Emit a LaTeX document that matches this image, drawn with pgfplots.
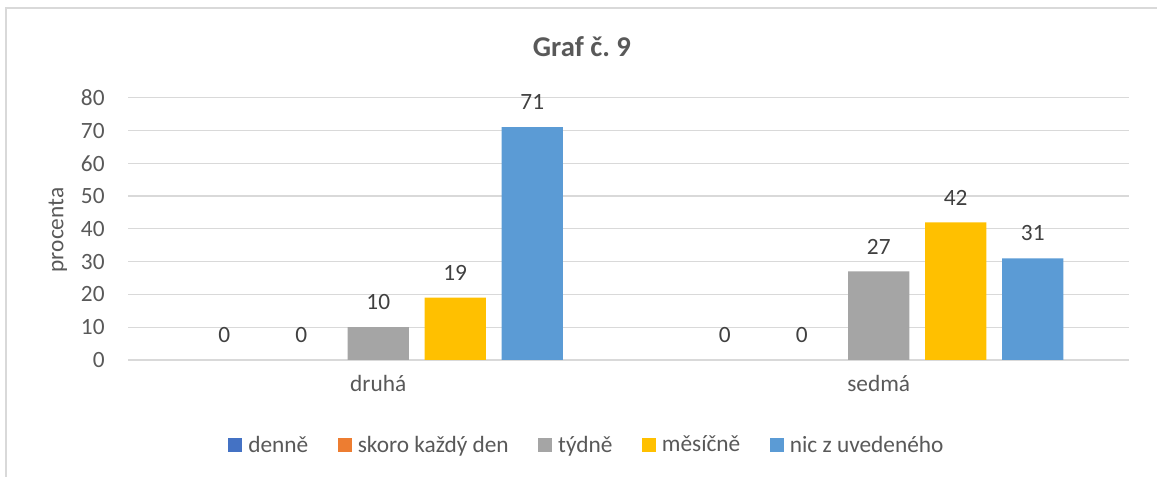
\documentclass[border=0pt]{standalone}
\usepackage{fontspec}
\setmainfont{Carlito}
\usepackage{pgfplots}
\pgfplotsset{compat=1.18}
\definecolor{cDen}{HTML}{4472C4}
\definecolor{cSko}{HTML}{ED7D31}
\definecolor{cTyd}{HTML}{A5A5A5}
\definecolor{cMes}{HTML}{FFC000}
\definecolor{cNic}{HTML}{5B9BD5}
\definecolor{cTxt}{HTML}{595959}
\definecolor{cLab}{HTML}{404040}
\definecolor{cGrid}{HTML}{D9D9D9}
\frenchspacing
\begin{document}
\begin{tikzpicture}[x=0.75pt,y=0.75pt]
\path[use as bounding box] (0,0) rectangle (1157,477);
\draw[cGrid, line width=1.5pt] (6,0) -- (6,469) -- (1157,469);
\node[font=\fontsize{21.5}{25}\selectfont\bfseries, text=cTxt] at (582,430) {Graf č. 9};
\node[font=\fontsize{17.5}{21}\selectfont, text=cTxt, rotate=90] at (58,247) {procenta};
\begin{axis}[
  at={(96pt,87.75pt)}, anchor=south west,
  scale only axis, width=750.75pt, height=196.7pt,
  xmin=-0.5, xmax=1.5, ymin=0, ymax=80,
  ytick={0,10,...,80},
  xtick={0,1}, xticklabels={druhá,sedmá},
  axis line style={draw=none},
  major tick length=0pt,
  ymajorgrids, grid style={cGrid, line width=0.9pt},
  tick label style={font=\fontsize{17.5}{21}\selectfont, text=cTxt},
  /pgf/number format/assume math mode=true,
  yticklabel style={xshift=-14pt},
  xticklabel style={yshift=-8pt},
  ybar, bar width=0.122,
  nodes near coords,
  every node near coord/.append style={font=\fontsize{17.5}{21}\selectfont, text=cLab, anchor=south, inner sep=0pt, yshift=12.75pt},
  legend columns=5,
  legend image code/.code={\fill[#1] (0pt,-5.25pt) rectangle (10.5pt,5.25pt);},
  legend style={at={(0.4605,-0.324)}, anchor=center, draw=none, font=\fontsize{17.5}{21}\selectfont, text=cTxt,
    nodes={inner xsep=4.5pt, inner ysep=0pt},
    /tikz/every even column/.append style={column sep=17.6pt}},
]
\addplot[fill=none, draw=none, bar shift=-0.3077,
  legend image code/.code={\fill[cDen] (0pt,-5.25pt) rectangle (10.5pt,5.25pt);}] coordinates {(0,0) (1,0)};
\addplot[fill=none, draw=none, bar shift=-0.1538,
  legend image code/.code={\fill[cSko] (0pt,-5.25pt) rectangle (10.5pt,5.25pt);}] coordinates {(0,0) (1,0)};
\addplot[fill=cTyd, draw=none, bar shift=0] coordinates {(0,10) (1,27)};
\addplot[fill=cMes, draw=none, bar shift=0.1538] coordinates {(0,19) (1,42)};
\addplot[fill=cNic, draw=none, bar shift=0.3077] coordinates {(0,71) (1,31)};
\legend{denně, skoro každý den, týdně, měsíčně, nic z uvedeného}
\end{axis}
\end{tikzpicture}
\end{document}
